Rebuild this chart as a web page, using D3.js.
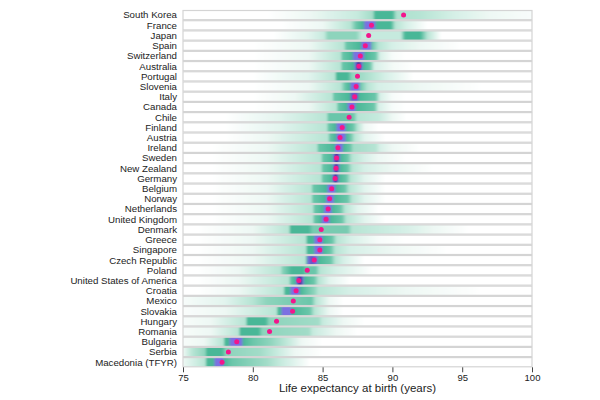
<!DOCTYPE html>
<html>
<head>
<meta charset="utf-8">
<script src="https://cdn.jsdelivr.net/npm/d3@7"></script>
<style>
  html, body { margin: 0; padding: 0; background: #fff; }
  svg { display: block; font-family: "Liberation Sans", Arial, sans-serif; }
</style>
</head>
<body>
<svg id="chart" width="600" height="400"></svg>
<script>
const countries = ["South Korea","France","Japan","Spain","Switzerland","Australia","Portugal","Slovenia","Italy","Canada","Chile","Finland","Austria","Ireland","Sweden","New Zealand","Germany","Belgium","Norway","Netherlands","United Kingdom","Denmark","Greece","Singapore","Czech Republic","Poland","United States of America","Croatia","Mexico","Slovakia","Hungary","Romania","Bulgaria","Serbia","Macedonia (TFYR)"];

const medians = [90.8,88.5,88.3,88.06,87.7,87.6,87.5,87.4,87.3,87.1,86.9,86.4,86.25,86.1,86.0,85.96,85.9,85.65,85.5,85.4,85.25,84.9,84.8,84.8,84.4,83.9,83.3,83.1,82.9,82.85,81.7,81.2,78.85,78.25,77.8];

// density profiles: [life expectancy, density level 0..7]
const profiles = [
  [[81,0],[84,1],[87.5,2.5],[88.6,3.5],[88.75,5],[90.0,5],[90.3,3.2],[92,3],[94.5,2],[97,1],[100,0.4]],
  [[82,0],[85,1],[87,3],[87.4,4.5],[87.9,5],[88.05,6],[88.7,6],[88.85,5],[89.9,5],[90.2,3],[91,2],[92.5,0]],
  [[81.5,0],[84,1.5],[85.1,2.5],[85.4,4],[87.4,4],[87.8,2.5],[90.6,2.5],[90.9,5],[92.0,5],[92.5,3],[93.5,0]],
  [[80,0],[84,1],[86.5,3],[86.7,4.5],[87.7,5],[87.85,6],[88.4,6],[88.55,4.5],[89,3],[90,2],[92,1],[95,0]],
  [[80,0],[84,1],[86.3,3],[86.4,4.5],[87.1,5],[87.25,6],[87.9,6],[88.05,5],[88.8,4.5],[89.1,2],[90,0.5],[91,0]],
  [[80,0],[84,1],[86.3,3],[86.4,4.5],[87.25,5],[87.35,6],[87.5,6.8],[87.65,6.8],[87.8,6],[87.9,5],[88.4,4.5],[88.7,2],[90,0.7],[91.5,0]],
  [[80,0],[84,1.5],[85.9,3],[86,5],[86.8,5],[87.1,4],[88.5,3],[89.5,2],[91.5,0]],
  [[80,0],[84,1],[86.3,3],[86.6,4.5],[86.95,5],[87.05,6],[87.6,6],[87.7,4.5],[88.2,3],[89,2],[92,1],[96.5,0]],
  [[80,0],[83,1],[85.7,3],[85.8,4.5],[86.95,5],[87.05,6.3],[87.5,6.3],[87.6,5],[88.8,4.5],[89.1,2],[90,0.5],[91,0]],
  [[80,0],[84,1],[86,3],[86.1,4.5],[86.75,5],[86.85,6],[87.3,6],[87.4,5],[88.7,4.5],[89,2],[90,0.5],[91,0]],
  [[78,0],[82,1.5],[85.3,3],[85.4,4.5],[87.2,4.5],[87.5,3],[89,2.5],[90,1],[91,0]],
  [[78,0],[82,1.5],[85.3,3],[85.4,4.5],[85.95,5],[86.05,6],[86.6,6],[86.7,5],[87.2,4.5],[87.5,3],[88,1],[89,0]],
  [[78,0],[81,1],[85.4,3],[85.5,4.5],[85.95,5],[86.05,6],[86.6,6],[86.7,5],[87,4.5],[87.3,3],[88,1.5],[89.5,0]],
  [[77,0],[81,1],[84.6,3],[84.7,4.5],[85.85,5],[85.95,6],[86.4,6],[86.5,5],[87,4.5],[87.2,3.5],[88.8,3],[89.1,2],[90,1],[92,0]],
  [[77,0],[81,1],[84.9,3],[85,4.5],[85.7,5],[85.8,6],[85.93,6.8],[86.07,6.8],[86.2,6],[86.3,5],[86.8,4.5],[87.1,3],[88,2],[89,1],[91,0]],
  [[77,0],[81,1],[84.9,3],[85,4.5],[85.7,5],[85.8,6],[85.92,6.8],[86.05,6.8],[86.15,6],[86.25,5],[86.8,4.5],[87.1,3],[88,2],[90,1],[93,0]],
  [[77,0],[81,1],[84.9,3],[85,4.5],[85.65,5],[85.75,6],[85.87,6.8],[86.0,6.8],[86.1,6],[86.2,5],[86.7,4.5],[87,3],[88,1.5],[89.5,0]],
  [[77,0],[81,1],[84.2,3],[84.3,4.5],[85.3,5],[85.4,6],[85.85,6],[85.95,5],[86.6,4.5],[86.9,3],[88,1.5],[89.5,0]],
  [[77,0],[81,1],[84.2,3],[84.3,4.5],[85.2,5],[85.3,6],[85.75,6],[85.85,5],[86.8,4.5],[87.1,3],[88,1.5],[89.5,0]],
  [[77,0],[81,1],[84.3,3],[84.4,4.5],[85.05,5],[85.15,6],[85.6,6],[85.7,5],[86.3,4.5],[86.6,3],[87.5,1.5],[89,0]],
  [[77,0],[81,1],[84.3,3],[84.4,4.5],[84.9,5],[85,6],[85.45,6],[85.55,5],[86.4,4.5],[86.7,3],[88,1.5],[89.5,0]],
  [[76,0],[80,1],[82.6,3],[82.7,5],[84.0,5],[84.3,4.3],[86.8,4.3],[87.1,3],[89,2.5],[91,2],[93,1],[95.5,0]],
  [[76,0],[80,1],[83.8,3],[83.9,5],[84.35,5],[84.45,6],[84.95,6],[85.05,5],[85.7,4.5],[86,3],[87,2],[89,0.5],[91,0]],
  [[76,0],[80,1],[83.8,3],[83.9,5],[84.35,5],[84.45,6],[84.95,6],[85.05,5],[85.6,4.5],[85.9,3],[87,2],[90,1],[94,0]],
  [[76,0],[80,1],[83.8,3],[83.85,5],[83.95,6],[84.2,6.4],[84.6,6],[84.7,5],[85.6,4.5],[85.9,3],[86.5,2],[88,0]],
  [[76,0],[79,1],[82,3],[82.1,4],[82.8,5],[83.6,5],[83.8,4.5],[84.5,4.5],[84.8,3],[86,2],[88.6,0]],
  [[76,0],[79,1],[82.6,3],[82.7,4.5],[83.05,5],[83.15,6],[83.3,6.8],[83.45,6.8],[83.6,6],[83.7,5],[84.4,4.5],[84.7,3],[85.5,1.5],[87,0]],
  [[76,0],[79,1],[82.2,3],[82.3,5],[82.65,5],[82.75,6],[83.3,6],[83.4,5],[84.4,4],[84.7,3],[87,2],[91,1],[96.5,0]],
  [[75,0.5],[78,1.5],[80,3],[81,4],[84.2,4.5],[84.5,3],[85.5,1],[86.5,0]],
  [[75,0.3],[78,1],[81.7,3],[81.8,5],[82.0,5],[82.1,6],[82.7,6],[82.8,5],[84.1,4.5],[84.4,3],[85.5,1],[86.5,0]],
  [[75,0.5],[77,1],[79.5,3],[79.6,5],[80.9,5],[81.2,4],[84.7,3.5],[85,2.5],[86.5,1],[88,0]],
  [[75,0.5],[77,1],[79,3],[79.1,5],[80.4,5],[80.7,4],[84,3.5],[84.3,2.5],[86,1],[87.5,0]],
  [[75,0.5],[76.5,1],[77.9,3],[78,5],[78.3,5],[78.4,6],[79.2,6],[79.3,5],[80,4.5],[81.2,4],[82.2,3],[83.5,1],[85,0]],
  [[75,1],[75.7,3],[76.6,4],[76.7,5],[77.8,5],[78.1,4],[80.5,3.5],[81.7,2.5],[83,1],[85,0]],
  [[75,1],[75.7,2],[76.6,3],[76.7,5],[77.2,5],[77.3,6],[77.85,6],[77.95,5],[78.5,4.5],[81,3.5],[82,2.5],[84.1,0]]
];

const xTicks = [75,80,85,90,95,100];
const xTitle = "Life expectancy at birth (years)";

const svg = d3.select("#chart");
const x = d3.scaleLinear().domain([75,100]).range([183,532]);
const y = d3.scaleBand().domain(countries).range([10,367.3]).paddingInner(0);

const level = d3.scaleLinear()
  .domain([0,1,2,3,4,5,6,7])
  .range(["#ffffff","#eef8f4","#d6f0e7","#b6e4d4","#8dd4bc","#48b797","#7b70e2","#3a2a8c"])
  .clamp(true);

const defs = svg.append("defs");
const x0 = x(75), x1 = x(100);

const blur = defs.append("filter").attr("id", "soft")
  .attr("x", "-2%").attr("width", "104%").attr("y", "-10%").attr("height", "120%");
blur.append("feGaussianBlur").attr("stdDeviation", "0.9 0");

countries.forEach((c, i) => {
  const g = defs.append("linearGradient")
    .attr("id", "g" + i)
    .attr("gradientUnits", "userSpaceOnUse")
    .attr("x1", x0).attr("x2", x1).attr("y1", 0).attr("y2", 0);
  profiles[i].forEach(([v, l]) => {
    g.append("stop")
      .attr("offset", (x(v) - x0) / (x1 - x0))
      .attr("stop-color", level(l));
  });
  defs.append("clipPath").attr("id", "c" + i)
    .append("rect")
    .attr("x", x0).attr("y", y(c) + 0.5)
    .attr("width", x1 - x0).attr("height", y.bandwidth() - 1);
});

const rows = svg.append("g").selectAll("g")
  .data(countries)
  .join("g")
  .attr("clip-path", (d, i) => `url(#c${i})`);

rows.append("rect")
  .attr("x", x0 - 3)
  .attr("y", d => y(d) + 0.5)
  .attr("width", x1 - x0 + 6)
  .attr("height", y.bandwidth() - 1)
  .attr("fill", (d, i) => `url(#g${i})`)
  .attr("filter", "url(#soft)");

svg.append("g").selectAll("rect")
  .data(countries)
  .join("rect")
  .attr("x", x0)
  .attr("y", d => y(d) + 0.5)
  .attr("width", x1 - x0)
  .attr("height", y.bandwidth() - 1)
  .attr("fill", "none")
  .attr("stroke", "#d4d4d4")
  .attr("stroke-width", 1.2);

svg.append("g").selectAll("circle")
  .data(countries)
  .join("circle")
  .attr("cx", (d, i) => x(medians[i]))
  .attr("cy", d => y(d) + y.bandwidth() / 2)
  .attr("r", 2.5)
  .attr("fill", "#f2168c");

svg.append("g").selectAll("text")
  .data(countries)
  .join("text")
  .attr("x", 177)
  .attr("y", d => y(d) + y.bandwidth() / 2)
  .attr("dy", "0.35em")
  .attr("text-anchor", "end")
  .attr("font-size", 9.7)
  .attr("fill", "#222")
  .text(d => d);

const ax = svg.append("g")
  .attr("transform", "translate(0,367.3)")
  .call(d3.axisBottom(x).tickValues(xTicks).tickSize(5).tickSizeOuter(0).tickPadding(2));
ax.select(".domain").remove();
ax.selectAll(".tick line").attr("stroke", "#444");
ax.selectAll(".tick text").attr("font-size", 9.5).attr("fill", "#222")
  .attr("font-family", "'Liberation Sans', Arial, sans-serif");

svg.append("text")
  .attr("x", (x0 + x1) / 2)
  .attr("y", 392)
  .attr("text-anchor", "middle")
  .attr("font-size", 11.5)
  .attr("fill", "#222")
  .text(xTitle);
</script>
</body>
</html>
